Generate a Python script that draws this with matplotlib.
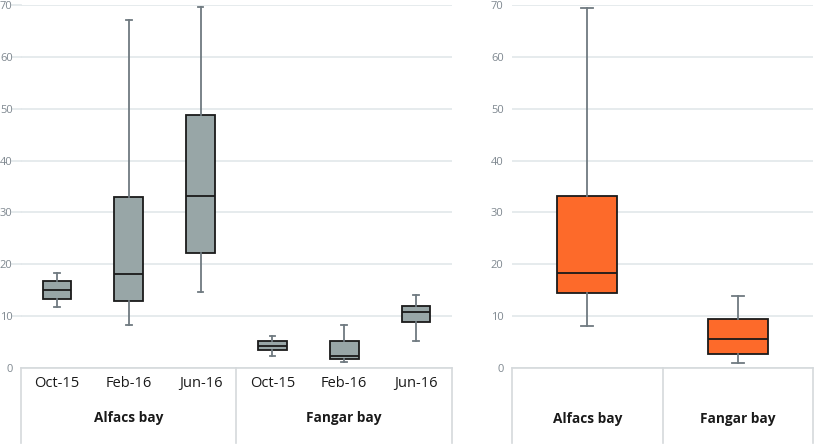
import matplotlib
matplotlib.use("Agg")
import matplotlib.pyplot as plt

plt.rcParams['font.family'] = ['Open Sans', 'DejaVu Sans']

# --- data -----------------------------------------------------------------
sub_labels = ['Oct-15', 'Feb-16', 'Jun-16', 'Oct-15', 'Feb-16', 'Jun-16']
left_groups = ['Alfacs bay', 'Fangar bay']
left_low = [11.8, 8.3, 14.7, 2.3, 1.1, 5.3]
left_q1 = [13.4, 12.9, 22.2, 3.4, 1.7, 8.9]
left_med = [15.1, 18.1, 33.2, 4.3, 2.4, 10.8]
left_q3 = [16.8, 33.0, 48.7, 5.2, 5.3, 12.0]
left_high = [18.4, 67.2, 69.7, 6.2, 8.3, 14.1]

right_groups = ['Alfacs bay', 'Fangar bay']
right_low = [8.1, 0.9]
right_q1 = [14.5, 2.7]
right_med = [18.4, 5.5]
right_q3 = [33.1, 9.5]
right_high = [69.5, 13.9]

yticks = [0, 10, 20, 30, 40, 50, 60, 70]

GRID = '#e2e7ea'
TICK = '#7f8890'
WHISK = '#6f7a80'
FRAME = '#d5d9dc'


def make_stats(low, q1, med, q3, high):
    return [dict(whislo=a, q1=b, med=c, q3=d, whishi=e, fliers=[])
            for a, b, c, d, e in zip(low, q1, med, q3, high)]


def style_axes(ax, n):
    ax.set_xlim(-0.5, n - 0.5)
    ax.set_ylim(0, 70)
    ax.set_yticks(yticks)
    ax.yaxis.grid(True, color=GRID, linewidth=1.2)
    ax.set_axisbelow(True)
    for s in ax.spines.values():
        s.set_visible(False)
    ax.tick_params(axis='y', length=0, colors=TICK, labelsize=8, pad=6)


def draw_boxes(ax, stats, color):
    ax.bxp(stats, positions=range(len(stats)), widths=0.4,
           patch_artist=True, showfliers=False,
           boxprops=dict(facecolor=color, edgecolor='#1a1a1a', linewidth=1.3),
           medianprops=dict(color='#1a1a1a', linewidth=1.3),
           whiskerprops=dict(color=WHISK, linewidth=1.3),
           capprops=dict(color=WHISK, linewidth=1.3), capwidths=0.08)


def category_frame(ax, edges, depth):
    tr = ax.get_xaxis_transform()
    for x in edges:
        ax.plot([x, x], [0, -depth], transform=tr, color=FRAME,
                linewidth=1.2, clip_on=False)
    ax.plot([edges[0], edges[-1]], [0, 0], transform=tr, color=FRAME,
            linewidth=1.2, clip_on=False)


fig = plt.figure(figsize=(8.15, 4.46), dpi=100)
ax1 = fig.add_axes([21 / 815, 78 / 446, 431 / 815, 363 / 446])
ax2 = fig.add_axes([512 / 815, 78 / 446, 301 / 815, 363 / 446])

# left panel: sampling dates per bay
draw_boxes(ax1, make_stats(left_low, left_q1, left_med, left_q3, left_high),
           '#98a6a7')
style_axes(ax1, len(sub_labels))
ax1.set_xticks(range(len(sub_labels)))
ax1.set_xticklabels(sub_labels, fontsize=10.5, color='#1a1a1a')
ax1.tick_params(axis='x', length=0, pad=6)
ax1.tick_params(axis='y', pad=6)
# gridlines in the reference run a little left of the category frame
ytr = ax1.get_yaxis_transform()
for v in yticks[1:]:
    ax1.plot([-9 / 431, 0], [v, v], transform=ytr, color=GRID,
             linewidth=1.2, clip_on=False, zorder=0)
category_frame(ax1, [-0.5, 2.5, 5.5], 0.207)
tr1 = ax1.get_xaxis_transform()
for i, g in enumerate(left_groups):
    ax1.text(1 + 3 * i, -0.137, g, transform=tr1, ha='center', va='center',
             fontsize=9.8, fontweight='bold', color='#1a1a1a')

# right panel: pooled per bay
draw_boxes(ax2, make_stats(right_low, right_q1, right_med, right_q3, right_high),
           '#fd6a2a')
style_axes(ax2, len(right_groups))
ax2.set_xticks([])
category_frame(ax2, [-0.5, 0.5, 1.5], 0.207)
tr2 = ax2.get_xaxis_transform()
for i, g in enumerate(right_groups):
    ax2.text(i, -0.14, g, transform=tr2, ha='center', va='center',
             fontsize=9.8, fontweight='bold', color='#1a1a1a')

fig.savefig('out.png', dpi=100)
